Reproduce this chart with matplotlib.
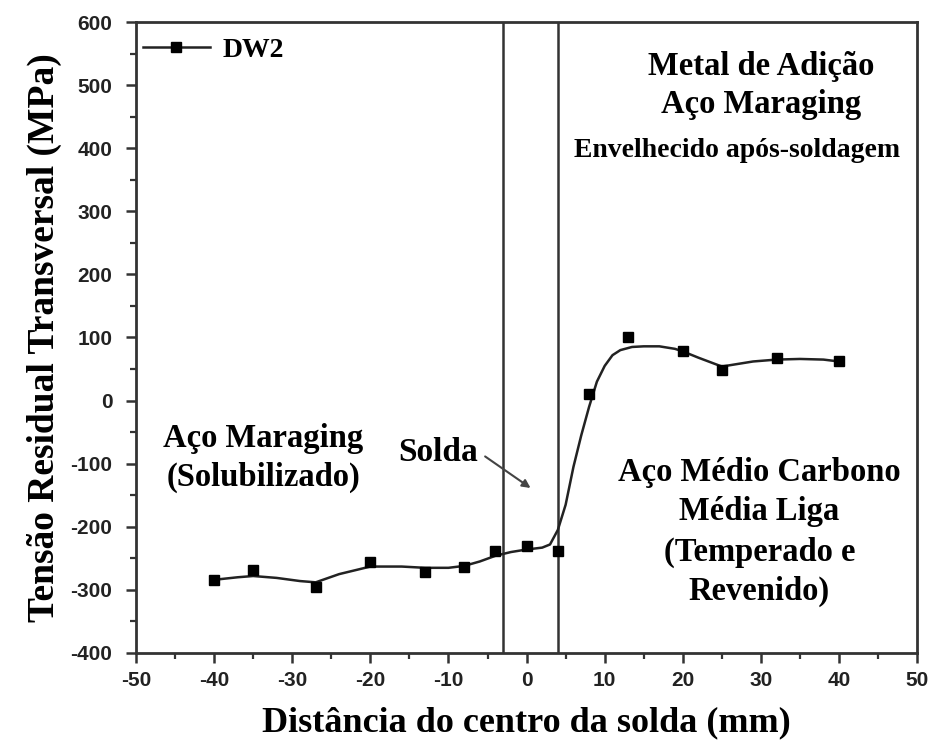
import matplotlib
matplotlib.use("Agg")
import matplotlib.pyplot as plt
from matplotlib.ticker import MultipleLocator

plt.rcParams["axes.unicode_minus"] = False

# Measured points (DW2)
x_pts = [-40, -35, -27, -20, -13, -8, -4, 0, 4, 8, 13, 20, 25, 32, 40]
y_pts = [-285, -268, -295, -255, -271, -263, -239, -230, -238, 11, 100, 78, 49, 68, 63]

# Smoothed curve
x_curve = [-40, -37, -35, -32, -29, -27, -24, -20, -16, -13, -10, -8, -6, -4, -2, 0, 2, 3,
           4, 5, 6, 7, 8, 9, 10, 11, 12, 13.5, 15, 17, 19, 20, 22, 25, 27, 29, 32, 35, 38, 40]
y_curve = [-284, -280, -278, -281, -286, -288, -275, -263, -263, -265, -265, -262, -255, -246, -240,
           -236, -233, -228, -205, -165, -105, -55, -10, 30, 55, 72, 80, 85, 86, 86, 82, 78, 68, 54, 58,
           62, 65, 66, 65, 62]

weld_lines = [-3, 4]

x_ticks = [-50, -40, -30, -20, -10, 0, 10, 20, 30, 40, 50]
y_ticks = [-400, -300, -200, -100, 0, 100, 200, 300, 400, 500, 600]

serif = "Liberation Serif"
sans = "Liberation Sans"

fig = plt.figure(figsize=(9.33, 7.51), dpi=100)
ax = fig.add_axes([0.1458, 0.1305, 0.8372, 0.8402])

ax.plot(x_curve, y_curve, color="#222222", lw=1.8, zorder=2)
ax.plot(x_pts, y_pts, ls="none", marker="s", ms=7.5, color="black", zorder=3)
for xv in weld_lines:
    ax.axvline(xv, color="#333333", lw=1.8, zorder=1)

ax.set_xlim(-50, 50)
ax.set_ylim(-400, 600)
ax.set_xticks(x_ticks)
ax.set_yticks(y_ticks)
ax.set_xticklabels([str(v) for v in x_ticks])
ax.set_yticklabels([str(v) for v in y_ticks])
ax.xaxis.set_minor_locator(MultipleLocator(5))
ax.yaxis.set_minor_locator(MultipleLocator(50))
ax.tick_params(which="major", direction="out", length=7, width=1.8, color="#333333")
ax.tick_params(which="minor", direction="out", length=4, width=1.6, color="#333333")
ax.tick_params(axis="x", which="major", pad=6)
ax.tick_params(axis="y", which="major", pad=10)
for lab in ax.get_xticklabels() + ax.get_yticklabels():
    lab.set_fontfamily(sans)
    lab.set_fontweight("bold")
    lab.set_fontsize(15)
    lab.set_color("#222222")
for s in ax.spines.values():
    s.set_linewidth(2)
    s.set_color("#333333")

ax.set_xlabel("Distância do centro da solda (mm)", fontfamily=serif, fontweight="bold",
              fontsize=26, labelpad=12)
ax.set_ylabel("Tensão Residual Transversal (MPa)", fontfamily=serif, fontweight="bold",
              fontsize=27, labelpad=6)

# legend
leg_line, = ax.plot([], [], color="#222222", lw=1.8, marker="s", ms=7.5, mfc="black", mec="black")
leg = ax.legend([leg_line], ["DW2"], loc="center left", bbox_to_anchor=(0.009, 0.9556),
                frameon=False, prop={"family": serif, "weight": "bold", "size": 20},
                handlelength=2.4, borderaxespad=0.0, borderpad=0.0, handletextpad=0.45)

tkw = dict(fontfamily=serif, fontweight="bold", ha="center", va="center")
ax.text(30, 530, "Metal de Adição", fontsize=23.5, **tkw)
ax.text(30, 469, "Aço Maraging", fontsize=23.5, **tkw)
ax.text(26.9, 396, "Envelhecido após-soldagem", fontsize=20, **tkw)

ax.text(-33.7, -60, "Aço Maraging", fontsize=23.5, **tkw)
ax.text(-33.7, -121, "(Solubilizado)", fontsize=23.5, **tkw)

ax.text(-11.3, -82, "Solda", fontsize=24, **tkw)
ax.annotate("", xy=(0.8, -141), xytext=(-5.6, -86),
            arrowprops=dict(arrowstyle="-|>", color="#444444", lw=1.5, mutation_scale=12))

ax.text(29.8, -114, "Aço Médio Carbono", fontsize=23.5, **tkw)
ax.text(29.8, -176, "Média Liga", fontsize=23.5, **tkw)
ax.text(29.8, -241, "(Temperado e", fontsize=23.5, **tkw)
ax.text(29.8, -303, "Revenido)", fontsize=23.5, **tkw)

fig.savefig("out.png", dpi=100)
